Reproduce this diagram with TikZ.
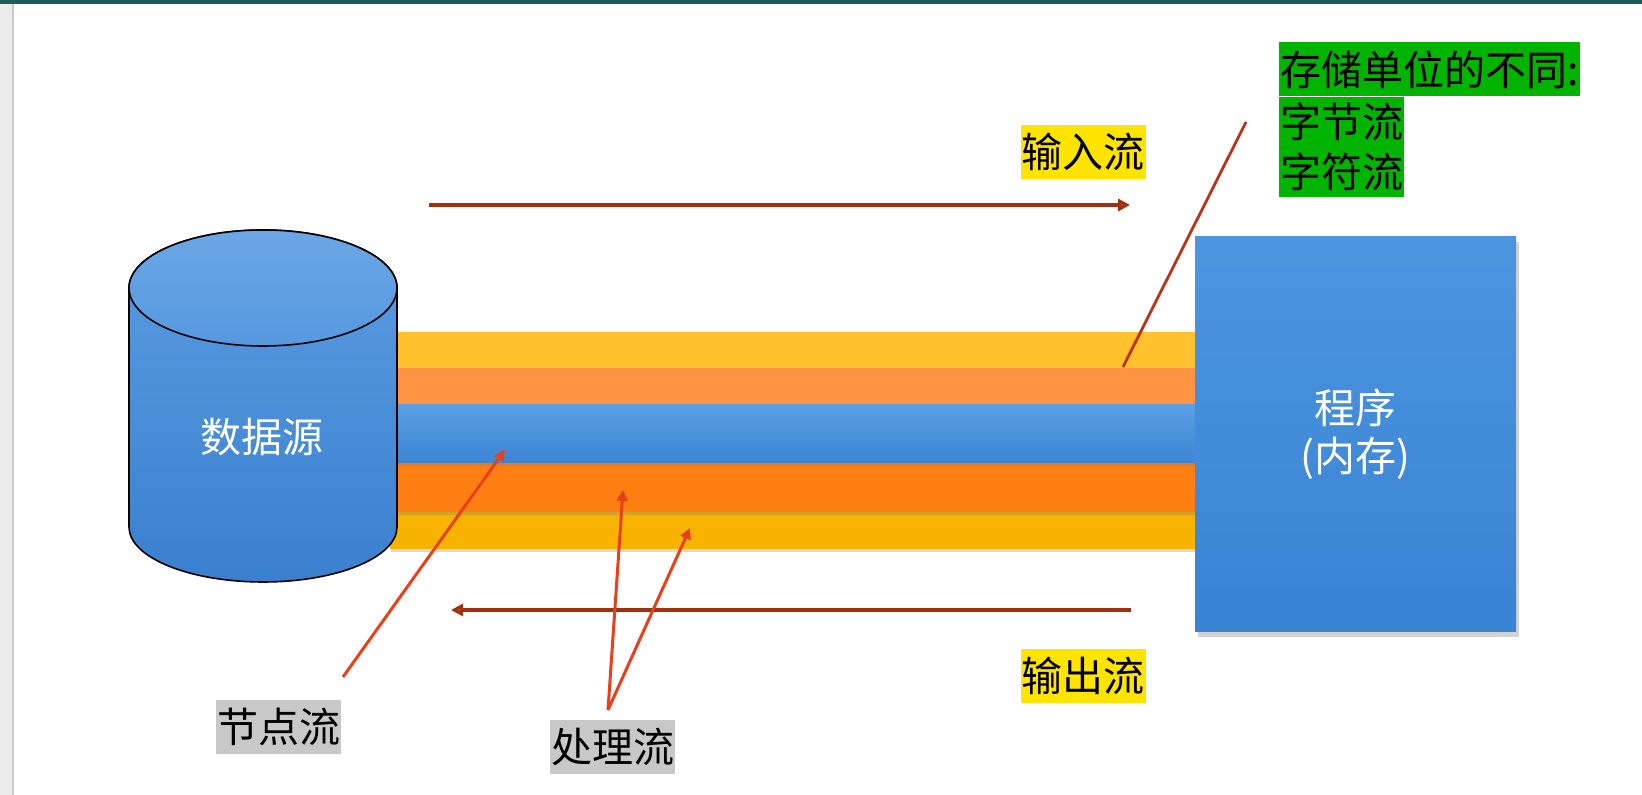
\documentclass[tikz,border=0pt]{standalone}
\usepackage{fontspec}
\setmainfont{Noto Sans CJK SC}
\usetikzlibrary{arrows.meta,positioning,calc,shadows}

\definecolor{tealline}{HTML}{1E5A5A}
\definecolor{stripgray}{HTML}{EBEBEB}
\definecolor{cylTop}{HTML}{5B9DE2}
\definecolor{cylBot}{HTML}{3A80CF}
\definecolor{boxTop}{HTML}{4E95E0}
\definecolor{boxBot}{HTML}{3883D2}
\definecolor{bandYellowA}{HTML}{FFC12E}
\definecolor{bandOrangeA}{HTML}{FF9444}
\definecolor{bandBlueTop}{HTML}{5AA0E6}
\definecolor{bandBlueBot}{HTML}{3D85D3}
\definecolor{bandOrangeB}{HTML}{FF7F13}
\definecolor{bandYellowB}{HTML}{F8B300}
\definecolor{hlYellow}{HTML}{FFE400}
\definecolor{hlGray}{HTML}{C8C8C8}
\definecolor{hlGreen}{HTML}{00B400}
\definecolor{flowred}{HTML}{A0300F}
\definecolor{pointred}{HTML}{E8401A}

\begin{document}
\begin{tikzpicture}[
        x=0.5pt, y=0.5pt,
        font=\fontsize{20.5}{24}\selectfont,
        flow/.style={-{Triangle[length=6pt,width=6pt,fill=pointred]}, line width=1.6pt, draw=flowred},
        pointer/.style={-{Triangle[length=5.5pt,width=5.5pt]}, line width=1.5pt, draw=pointred},
        band/.style={drop shadow={shadow xshift=0.5pt, shadow yshift=-1.5pt, opacity=0.3}},
        tag/.style={inner xsep=0.5pt, inner ysep=0pt, minimum height=27pt, text=black},
        greenline/.style={fill=hlGreen, inner xsep=0.5pt, inner ysep=0pt, anchor=north west, text=black},
        progbox/.style={minimum width=160.5pt, minimum height=197.5pt, align=center, text=white,
                        top color=boxTop, bottom color=boxBot,
                        drop shadow={shadow xshift=1.5pt, shadow yshift=-2.5pt, opacity=0.35}}
    ]
        \useasboundingbox (0,0) rectangle (1642,795);
        \fill[white] (0,0) rectangle (1642,795);
        % screen frame
        \fill[stripgray] (0,0) rectangle (13,795);
        \draw[hlGray, line width=1pt] (13,0) -- (13,792);
        \fill[tealline] (0,791) rectangle (1642,795);

        % the pipe
        \fill[bandYellowA, band] (390,427) rectangle (1195,463);
        \fill[bandYellowB, band] (390,246) rectangle (1195,283);
        \fill[bandOrangeA, band] (390,390) rectangle (1195,427);
        \fill[bandOrangeB, band] (390,283) rectangle (1195,332);
        \fill[band, top color=bandBlueTop, bottom color=bandBlueBot] (390,332) rectangle (1195,390);

        % data source
        \draw[line width=0.8pt, top color=cylTop, bottom color=cylBot]
            (129,507) -- (129,268) arc[start angle=180, end angle=360, x radius=134, y radius=55]
            -- (397,507) arc[start angle=0, end angle=180, x radius=134, y radius=58] -- cycle;
        \draw[line width=0.8pt, top color=cylTop!90!white, bottom color=cylTop!85!cylBot]
            (263,507) ellipse[x radius=134, y radius=58];
        \node[text=white] (src) at (262,358) {数据源};

        % program
        \node[progbox] (prog) at (1355.5,360.5) {\baselineskip=27pt 程序\\(内存)};

        % input / output
        \coordinate (inStart) at (429,590);
        \coordinate (inEnd) at (1130,590);
        \coordinate (outStart) at (1131,185);
        \coordinate (outEnd) at (451,185);
        \draw[flow] (inStart) -- (inEnd);
        \draw[flow] (outStart) -- (outEnd);
        \node[tag, fill=hlYellow] (input) at (1083,643) {输入流};
        \node[tag, fill=hlYellow] (output) at (1083,119) {输出流};

        % storage unit
        \node[greenline, minimum height=27pt] (store1) at (1279,753) {存储单位的不同:};
        \node[greenline, minimum height=24.75pt] (store2) at (store1.south west) {字节流};
        \node[greenline, minimum height=24.75pt] (store3) at (store2.south west) {字符流};
        \coordinate (storeFrom) at (1246,673);
        \coordinate (storeTo) at (1123,428);
        \draw[pointred!80!black, line width=1.4pt] (storeFrom) -- (storeTo);

        % node stream / processing stream
        \node[tag, fill=hlGray] (nodeflow) at (278.5,68) {节点流};
        \node[tag, fill=hlGray] (procflow) at (612.5,48) {处理流};
        \coordinate (nodeFrom) at (343,118);
        \coordinate (nodeTo) at (505,345);
        \coordinate (procFrom) at (608,85);
        \coordinate (procToA) at (623,305);
        \coordinate (procToB) at (690,267);
        \draw[pointer] (nodeFrom) -- (nodeTo);
        \draw[pointer] (procFrom) -- (procToA);
        \draw[pointer] (procFrom) -- (procToB);
    \end{tikzpicture}
\end{document}
